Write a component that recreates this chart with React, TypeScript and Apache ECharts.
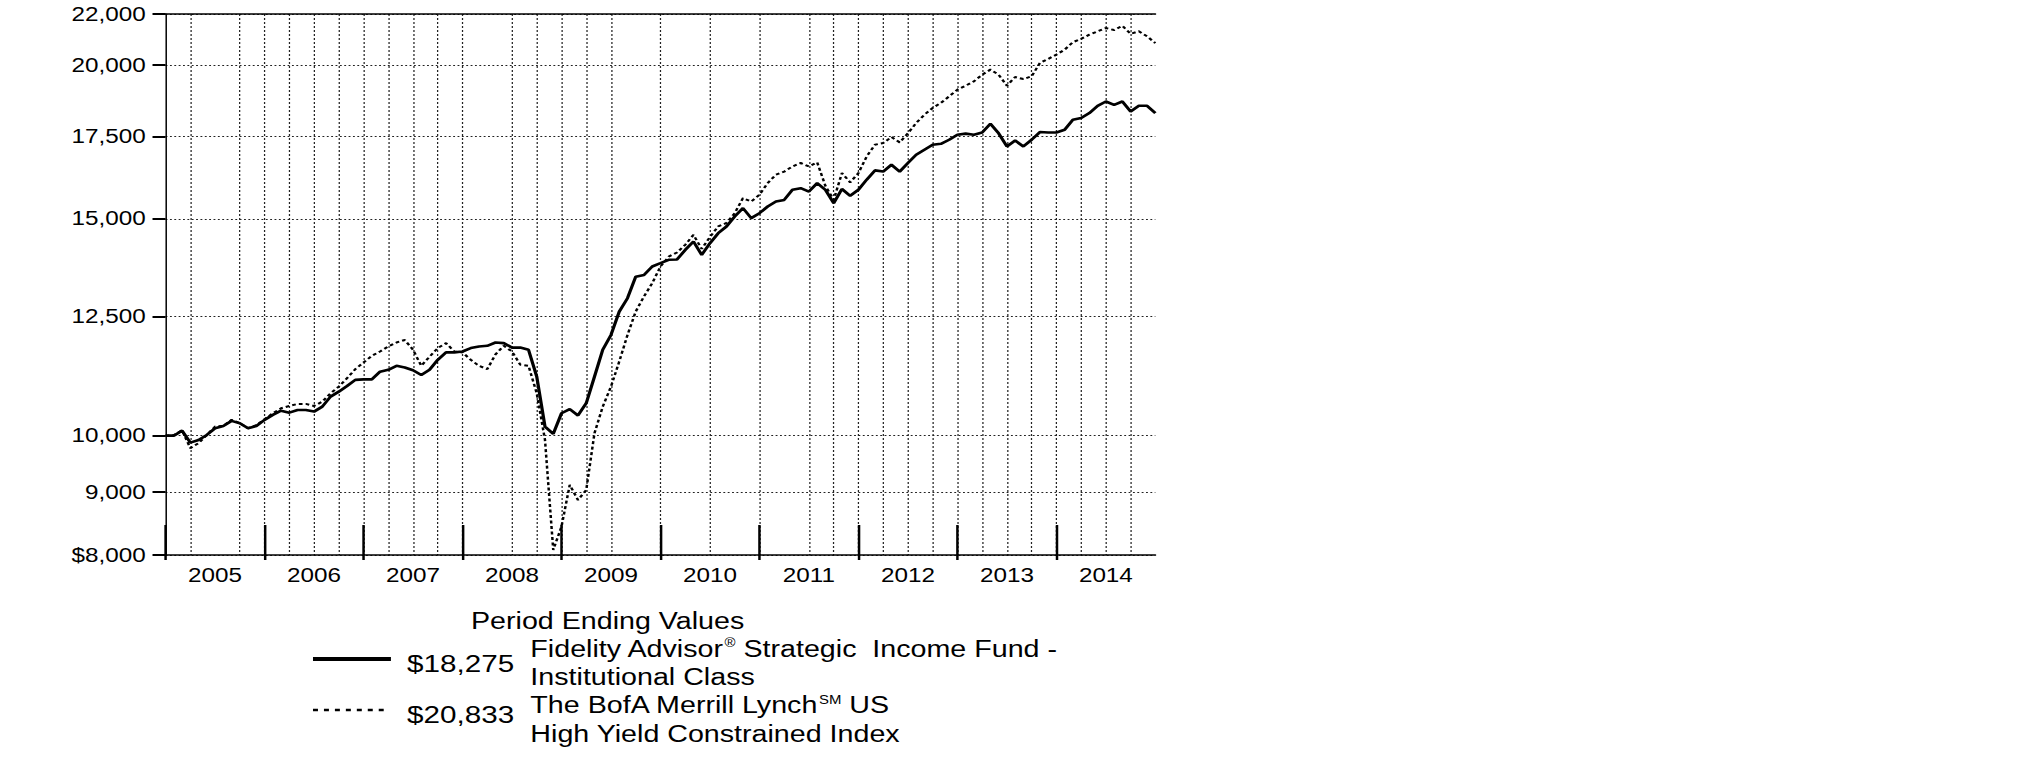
import React, { useEffect, useRef } from "react";
import * as echarts from "echarts";

// The reference is drawn horizontally stretched; the chart is laid out in
// unstretched units and the whole canvas is stretched with a CSS transform.
const STRETCH = 1.245;
const WIDTH = 1626;
const HEIGHT = 761;
const FONT = "Liberation Sans, Arial, sans-serif";

// Month-end categories, Dec 2004 .. Dec 2014
const months: string[] = [];
for (let i = 0; i <= 120; i++) {
  const total = 11 + i;
  const y = 2004 + Math.floor(total / 12);
  const m = (total % 12) + 1;
  months.push(`${y}-${String(m).padStart(2, "0")}`);
}

// Quarter grid lines that are absent in the reference
const hiddenGridMonths = [6, 39, 57, 63, 69, 75];

const yTicks = [8000, 9000, 10000, 12500, 15000, 17500, 20000, 22000];

// Fidelity Advisor Strategic Income Fund - Institutional Class
const fundValues = [
  10000, 10000, 10095, 9871, 9920, 10014, 10140, 10183, 10280, 10235, 10140, 10183,
  10300, 10396, 10478, 10440, 10493, 10493, 10460, 10558, 10757, 10858, 10973, 11099,
  11110, 11110, 11270, 11310, 11395, 11360, 11300, 11200, 11310, 11525, 11685, 11685,
  11705, 11780, 11815, 11830, 11903, 11890, 11790, 11790, 11743, 11166, 10171, 10032,
  10428, 10508, 10385, 10626, 11166, 11743, 12072, 12612, 12930, 13463, 13506, 13720,
  13806, 13893, 13900, 14153, 14377, 14023, 14332, 14603, 14787, 15065, 15303, 15019,
  15159, 15349, 15493, 15540, 15836, 15884, 15785, 16035, 15836, 15447, 15860, 15660,
  15836, 16140, 16422, 16385, 16596, 16385, 16650, 16910, 17070, 17230, 17260, 17390,
  17556, 17590, 17556, 17630, 17920, 17600, 17175, 17365, 17175, 17390, 17642, 17630,
  17630, 17720, 18053, 18110, 18280, 18530, 18680, 18565, 18680, 18335, 18530, 18530,
  18275,
];

// The BofA Merrill Lynch US High Yield Constrained Index
const indexValues = [
  10000, 10010, 10100, 9770, 9861, 10014, 10171, 10183, 10300, 10235, 10140, 10200,
  10310, 10428, 10525, 10571, 10612, 10612, 10571, 10656, 10825, 10961, 11134, 11324,
  11466, 11609, 11705, 11815, 11903, 11960, 11743, 11395, 11590, 11780, 11890, 11705,
  11685, 11525, 11395, 11324, 11640, 11830, 11705, 11420, 11395, 10825, 9920, 8076,
  8436, 9120, 8867, 9034, 10046, 10558, 10961, 11485, 12072, 12612, 12972, 13300,
  13720, 13977, 14085, 14289, 14556, 14180, 14500, 14787, 14884, 15159, 15590, 15493,
  15690, 16035, 16290, 16385, 16543, 16650, 16543, 16670, 15950, 15540, 16340, 16060,
  16340, 16856, 17230, 17283, 17480, 17305, 17600, 17945, 18225, 18455, 18630, 18860,
  19097, 19240, 19396, 19640, 19826, 19640, 19240, 19555, 19480, 19580, 20074, 20226,
  20390, 20580, 20870, 21000, 21165, 21297, 21430, 21350, 21520, 21200, 21300, 21100,
  20833,
];

const legendTitle = "Period Ending Values";
const fundEnding = "$18,275";
const indexEnding = "$20,833";
const fundLabel = ["Fidelity Advisor{sup|®} Strategic  Income Fund -", "Institutional Class"];
const indexLabel = ["The BofA Merrill Lynch{sup|SM} US", "High Yield Constrained Index"];

const fmtY = (v: number) =>
  v === 8000 ? "$8,000" : Math.round(v).toLocaleString("en-US");

const yearTick = (i: number) => i % 12 === 0 && i < 120;

function legendText(x: number, y: number, text: string, size = 23) {
  return {
    type: "text",
    x,
    y,
    style: {
      text,
      fill: "#000",
      fontFamily: FONT,
      fontSize: size,
      lineHeight: size,
      textAlign: "left",
      textVerticalAlign: "middle",
      align: "left",
      verticalAlign: "middle",
      rich: {
        sup: { fontFamily: FONT, fontSize: 12, lineHeight: size, fill: "#000", verticalAlign: "top" },
      },
    },
  };
}

export default function App() {
  const ref = useRef<HTMLDivElement>(null);
  useEffect(() => {
    if (!ref.current) return;
    const chart = echarts.init(ref.current, undefined, {
      renderer: "svg",
      width: WIDTH,
      height: HEIGHT,
    });
    const option: any = {
      animation: false,
      backgroundColor: "#fff",
      grid: { left: 133, top: 14, width: 795, height: 541, containLabel: false },
      xAxis: [
        {
          type: "category",
          data: months,
          boundaryGap: false,
          position: "bottom",
          axisLine: { show: true, onZero: false, lineStyle: { color: "#000", width: 1.5 } },
          axisTick: {
            show: true,
            inside: true,
            length: 30,
            interval: (i: number) => yearTick(i),
            lineStyle: { color: "#000", width: 2 },
          },
          axisLabel: {
            show: true,
            interval: (i: number) => i % 12 === 6,
            formatter: (v: string) => v.slice(0, 4),
            color: "#000",
            fontFamily: FONT,
            fontSize: 19.5,
            margin: 10,
          },
          splitLine: {
            show: true,
            interval: (i: number) =>
              i % 3 === 0 && i > 0 && i < 120 && hiddenGridMonths.indexOf(i) < 0,
            lineStyle: { color: "#222", type: [2, 2], width: 1 },
          },
        },
        {
          type: "category",
          data: months,
          boundaryGap: false,
          position: "top",
          axisLine: { show: true, onZero: false, lineStyle: { color: "#000", width: 1.5 } },
          axisTick: { show: false },
          axisLabel: { show: false },
          splitLine: { show: false },
        },
        {
          type: "category",
          data: months,
          boundaryGap: false,
          position: "bottom",
          axisLine: { show: false, onZero: false },
          axisTick: {
            show: true,
            inside: false,
            length: 5,
            interval: (i: number) => yearTick(i),
            lineStyle: { color: "#000", width: 2 },
          },
          axisLabel: { show: false },
          splitLine: { show: false },
        },
      ],
      yAxis: {
        type: "log",
        logBase: 10,
        min: 8000,
        max: 22000,
        axisLine: { show: true, lineStyle: { color: "#000", width: 1.2 } },
        axisTick: {
          show: true,
          inside: false,
          length: 10.5,
          customValues: yTicks,
          lineStyle: { color: "#000", width: 2 },
        },
        axisLabel: {
          customValues: yTicks,
          formatter: fmtY,
          color: "#000",
          fontFamily: FONT,
          fontSize: 19.5,
          margin: 16,
        },
        splitLine: { show: true, lineStyle: { color: "#222", type: [1.5, 2], width: 1 } },
        minorTick: { show: false },
        minorSplitLine: { show: false },
      },
      series: [
        {
          type: "line",
          name: "Fund",
          data: fundValues,
          xAxisIndex: 0,
          yAxisIndex: 0,
          symbol: "none",
          showSymbol: false,
          lineStyle: { color: "#000", width: 2.6 },
          z: 3,
        },
        {
          type: "line",
          name: "Index",
          data: indexValues,
          xAxisIndex: 0,
          yAxisIndex: 0,
          symbol: "none",
          showSymbol: false,
          lineStyle: { color: "#000", width: 2, type: [3, 2.5] },
          z: 2,
        },
      ],
      graphic: [
        legendText(378.3, 621, legendTitle, 23),
        {
          type: "line",
          shape: { x1: 251.4, y1: 659, x2: 314, y2: 659 },
          style: { stroke: "#000", lineWidth: 3.8 },
        },
        legendText(327, 664, fundEnding, 23.8),
        legendText(426, 649, fundLabel[0]),
        legendText(426, 677, fundLabel[1]),
        {
          type: "line",
          shape: { x1: 251.4, y1: 710, x2: 309, y2: 710 },
          style: { stroke: "#000", lineWidth: 2.5, lineDash: [4, 4.8] },
        },
        legendText(327, 715, indexEnding, 23.8),
        legendText(426, 705.5, indexLabel[0]),
        legendText(426, 734, indexLabel[1]),
      ],
    };
    chart.setOption(option);
    return () => chart.dispose();
  }, []);
  return (
    <div
      ref={ref}
      style={{
        position: "absolute",
        left: 0,
        top: 0,
        width: WIDTH,
        height: HEIGHT,
        transform: `scaleX(${STRETCH})`,
        transformOrigin: "0 0",
        background: "#fff",
      }}
    />
  );
}
